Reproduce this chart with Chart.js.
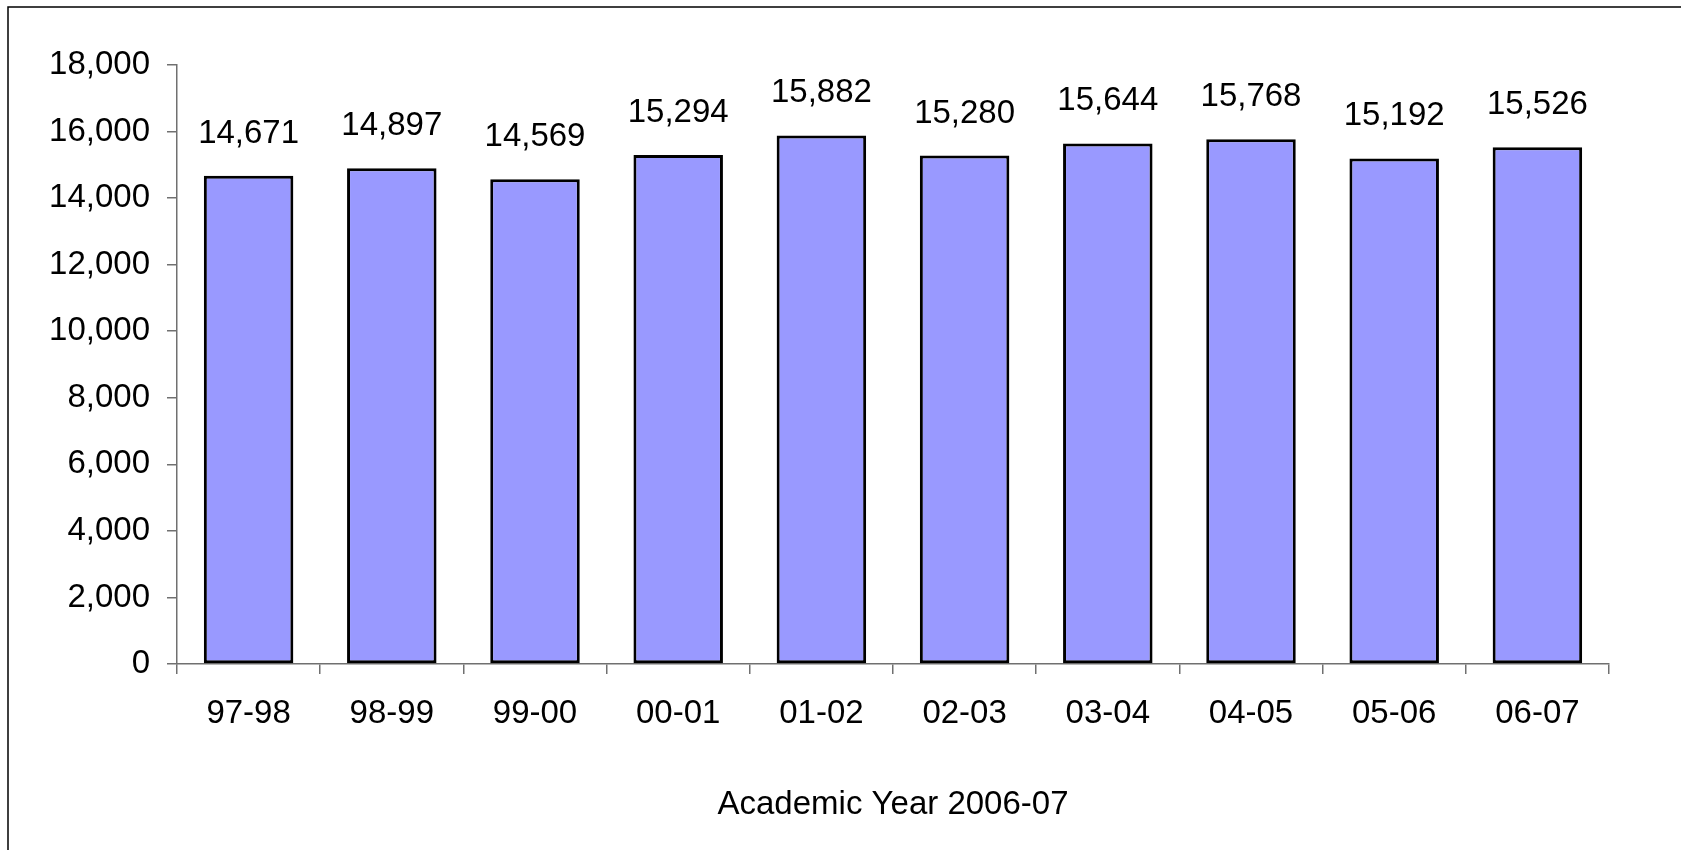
<!DOCTYPE html>
<html>
<head>
<meta charset="utf-8">
<script src="https://cdn.jsdelivr.net/npm/chart.js@4/dist/chart.umd.min.js"></script>
<style>
  html, body { margin: 0; padding: 0; background: #fff; }
  canvas { display: block; }
</style>
</head>
<body>
<canvas id="c" width="1681" height="850"></canvas>
<script>
const categories = ['97-98', '98-99', '99-00', '00-01', '01-02', '02-03', '03-04', '04-05', '05-06', '06-07'];
const enrollment = [14671, 14897, 14569, 15294, 15882, 15280, 15644, 15768, 15192, 15526];
const yTicks = { min: 0, max: 18000, step: 2000 };
const xTitle = 'Academic Year 2006-07';

const fmt = v => Number(v).toLocaleString('en-US');

const frame = {
  id: 'frame',
  beforeDraw(chart) {
    const ctx = chart.ctx;
    ctx.save();
    ctx.fillStyle = '#ffffff';
    ctx.fillRect(0, 0, chart.width, chart.height);
    ctx.strokeStyle = '#000000';
    ctx.lineWidth = 1.5;
    ctx.strokeRect(8, 7, chart.width + 20, chart.height + 20);
    ctx.restore();
  }
};

const valueLabels = {
  id: 'valueLabels',
  afterDatasetsDraw(chart) {
    const ctx = chart.ctx;
    const meta = chart.getDatasetMeta(0);
    ctx.save();
    ctx.font = '33px "Liberation Sans", Arial, sans-serif';
    ctx.fillStyle = '#000';
    ctx.textAlign = 'center';
    ctx.textBaseline = 'alphabetic';
    meta.data.forEach((bar, i) => {
      ctx.fillText(fmt(chart.data.datasets[0].data[i]), bar.x, bar.y - 33);
    });
    ctx.restore();
  }
};

Chart.defaults.font.family = '"Liberation Sans", Arial, sans-serif';
Chart.defaults.font.size = 33;
Chart.defaults.color = '#000';

new Chart(document.getElementById('c'), {
  type: 'bar',
  data: {
    labels: categories,
    datasets: [{
      data: enrollment,
      backgroundColor: '#9999FF',
      borderColor: '#000000',
      borderWidth: 3,
      borderSkipped: false,
      barPercentage: 0.625,
      categoryPercentage: 1.0
    }]
  },
  options: {
    responsive: false,
    animation: false,
    devicePixelRatio: 1,
    layout: { padding: { left: 0, right: 72, top: 65, bottom: 0 } },
    plugins: {
      legend: { display: false },
      tooltip: { enabled: false },
      title: { display: false }
    },
    scales: {
      x: {
        grid: { display: true, drawOnChartArea: false, drawTicks: true, tickLength: 10, color: '#707070', lineWidth: 1.5, offset: true },
        border: { display: true, color: '#707070', width: 1.5 },
        ticks: { padding: 20, maxRotation: 0, font: { size: 33 } },
        title: { display: true, text: xTitle, font: { size: 33 }, padding: { top: 0, bottom: 25 } },
        afterFit(s) { s.height = 186; }
      },
      y: {
        min: yTicks.min,
        max: yTicks.max,
        grid: { display: true, drawOnChartArea: false, drawTicks: true, tickLength: 10, color: '#707070', lineWidth: 1.5 },
        border: { display: true, color: '#707070', width: 1.5 },
        ticks: { stepSize: yTicks.step, padding: 17, callback: v => fmt(v), font: { size: 33 } },
        afterFit(s) { s.width = 177; }
      }
    }
  },
  plugins: [frame, valueLabels]
});
</script>
</body>
</html>
